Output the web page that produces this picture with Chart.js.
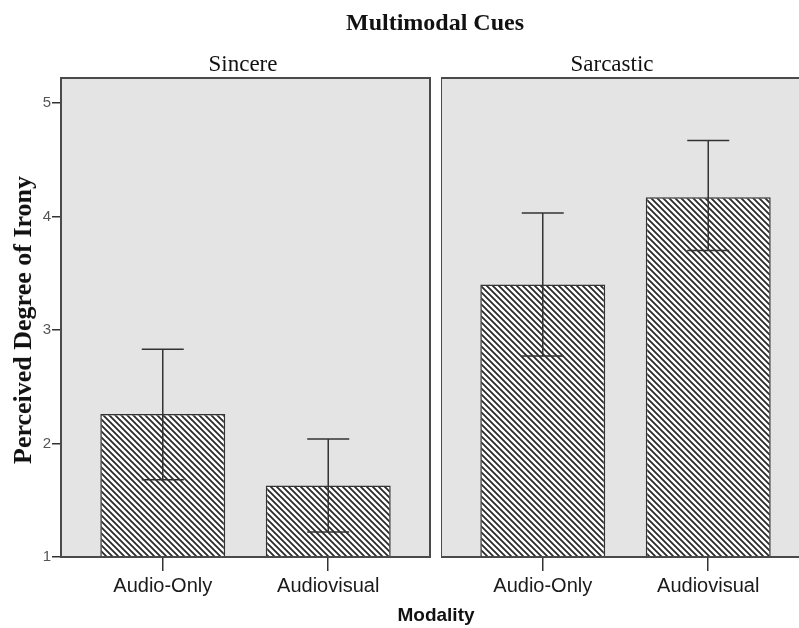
<!DOCTYPE html>
<html>
<head>
<meta charset="utf-8">
<script src="https://cdn.jsdelivr.net/npm/chart.js@4/dist/chart.umd.min.js"></script>
<style>
  html, body { margin: 0; padding: 0; background: #fff; }
  body { width: 799px; height: 628px; overflow: hidden; position: relative; }
  canvas { position: absolute; top: 0; }
  .lbl { position: absolute; white-space: nowrap; color: #111; }
  .serif { font-family: "Liberation Serif", "Times New Roman", serif; }
  .sans { font-family: "Liberation Sans", Arial, sans-serif; }
</style>
</head>
<body>
<canvas id="sincere" width="440" height="628" style="left:0"></canvas>
<canvas id="sarcastic" width="380" height="628" style="left:441px"></canvas>

<div class="lbl serif" style="left:435px; top:22px; transform:translate(-50%,-50%); font-size:24px; font-weight:bold;">Multimodal Cues</div>
<div class="lbl serif" style="left:243px; top:64px; transform:translate(-50%,-50%); font-size:23px;">Sincere</div>
<div class="lbl serif" style="left:612px; top:64px; transform:translate(-50%,-50%); font-size:23px;">Sarcastic</div>
<div class="lbl serif" style="left:23px; top:320px; transform:translate(-50%,-50%) rotate(-90deg); font-size:26px; font-weight:bold;">Perceived Degree of Irony</div>
<div class="lbl sans" style="left:436px; top:615px; transform:translate(-50%,-50%); font-size:19px; font-weight:bold;">Modality</div>

<script>
// Modality categories on the x axis
const categories = ['Audio-Only', 'Audiovisual'];

// Mean perceived irony per panel, with error-bar bounds
const sincereMeans = [2.26, 1.63];
const sincereLow   = [1.68, 1.22];
const sincereHigh  = [2.83, 2.04];

const sarcasticMeans = [3.40, 4.17];
const sarcasticLow   = [2.77, 3.70];
const sarcasticHigh  = [4.03, 4.67];

// Y axis tick values
const yTicks = [1, 2, 3, 4, 5];

const INK = '#333333';
const PANEL_BG = '#e4e4e4';

// Diagonal hatch fill for the bars
function makeHatch() {
  const c = document.createElement('canvas');
  c.width = 6; c.height = 6;
  const g = c.getContext('2d');
  g.fillStyle = '#ffffff';
  g.fillRect(0, 0, 6, 6);
  g.strokeStyle = '#2a2a2a';
  g.lineWidth = 1.8;
  g.beginPath();
  g.moveTo(-1, -1); g.lineTo(7, 7);
  g.moveTo(-1, 5); g.lineTo(1, 7);
  g.moveTo(5, -1); g.lineTo(7, 1);
  g.stroke();
  return g.createPattern(c, 'repeat');
}

// Grey panel background and frame, plus error bars on top of the bars
const panelPlugin = {
  id: 'panel',
  beforeDraw(chart) {
    const a = chart.chartArea, ctx = chart.ctx;
    ctx.save();
    ctx.fillStyle = PANEL_BG;
    ctx.fillRect(a.left, a.top, a.right - a.left, a.bottom - a.top);
    ctx.restore();
  },
  afterDatasetsDraw(chart) {
    const a = chart.chartArea, ctx = chart.ctx;
    const y = chart.scales.y;
    const meta = chart.getDatasetMeta(0);
    const lows = chart.options.plugins.panel.low;
    const highs = chart.options.plugins.panel.high;
    ctx.save();
    ctx.strokeStyle = INK;
    ctx.lineWidth = 1.5;
    meta.data.forEach((bar, i) => {
      const x = bar.x;
      const yl = y.getPixelForValue(lows[i]);
      const yh = y.getPixelForValue(highs[i]);
      const cap = 21;
      ctx.beginPath();
      ctx.moveTo(x, yh); ctx.lineTo(x, yl);
      ctx.moveTo(x - cap, yh); ctx.lineTo(x + cap, yh);
      ctx.moveTo(x - cap, yl); ctx.lineTo(x + cap, yl);
      ctx.stroke();
    });
    ctx.strokeStyle = '#4a4a4a';
    ctx.lineWidth = 2;
    ctx.strokeRect(a.left, a.top, a.right - a.left, a.bottom - a.top);
    ctx.restore();
  }
};

function buildPanel(canvasId, means, low, high, showY) {
  const hatch = makeHatch();
  return new Chart(document.getElementById(canvasId), {
    type: 'bar',
    data: {
      datasets: [{
        data: means.map((v, i) => ({ x: i, y: v })),
        backgroundColor: hatch,
        borderColor: INK,
        borderWidth: 1.5,
        borderSkipped: 'start',
        barPercentage: 0.755,
        categoryPercentage: 1
      }]
    },
    options: {
      responsive: false,
      animation: false,
      devicePixelRatio: 1,
      layout: { padding: { top: 78, left: 0, right: showY ? 10 : 11, bottom: 0 } },
      plugins: {
        legend: { display: false },
        tooltip: { enabled: false },
        panel: { low: low, high: high }
      },
      scales: {
        x: {
          type: 'linear',
          offset: false,
          min: -0.615,
          max: 1.615,
          afterBuildTicks: s => { s.ticks = categories.map((c, i) => ({ value: i })); },
          afterFit: s => { s.height = 71; },
          ticks: {
            callback: v => categories[v],
            font: { family: '"Liberation Sans", Arial, sans-serif', size: 20 },
            color: '#1a1a1a',
            padding: 3,
            maxRotation: 0,
            autoSkip: false
          },
          grid: { display: true, offset: false, drawOnChartArea: false, tickLength: 14, color: INK, lineWidth: 1.5 },
          border: { display: false }
        },
        y: {
          type: 'linear',
          display: showY,
          min: 1,
          max: 5.22,
          afterBuildTicks: s => { s.ticks = yTicks.map(v => ({ value: v })); },
          afterFit: s => { if (showY) s.width = 61; },
          ticks: {
            font: { family: '"Liberation Sans", Arial, sans-serif', size: 15 },
            color: '#555555',
            padding: 1
          },
          grid: { display: true, drawOnChartArea: false, tickLength: 9, color: INK, lineWidth: 1.5 },
          border: { display: false }
        }
      }
    },
    plugins: [panelPlugin]
  });
}

buildPanel('sincere', sincereMeans, sincereLow, sincereHigh, true);
buildPanel('sarcastic', sarcasticMeans, sarcasticLow, sarcasticHigh, false);
</script>
</body>
</html>
